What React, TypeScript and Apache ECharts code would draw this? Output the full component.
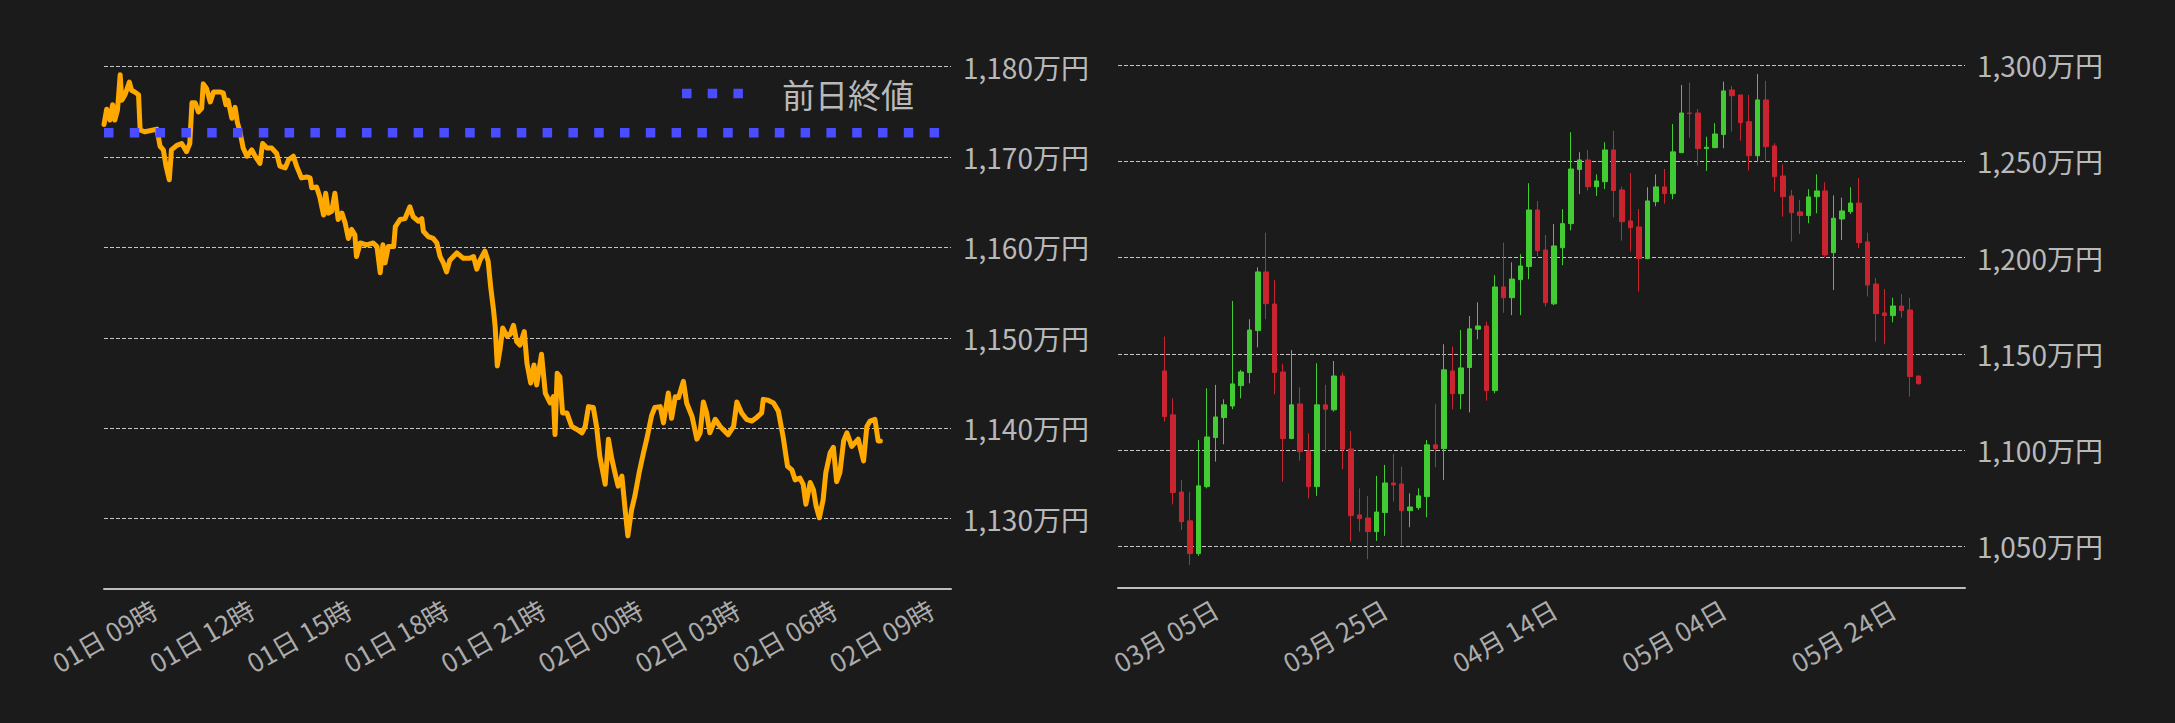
import React, { useEffect, useRef } from "react";
import * as echarts from "echarts";

const FONT = "'Noto Sans CJK JP', 'Noto Sans', sans-serif";
const BG = "#1b1b1b";

// ---- Left chart: intraday line (minutes after first point) ----
const START_MIN = 447; // first point, minutes after 01日 00:00
const AXIS_END_MIN = 2017;
const PREV_CLOSE = 1172.7;
const timeTickMinutes = [540, 720, 900, 1080, 1260, 1440, 1620, 1800, 1980];

const lineMinutes = [
  0, 5, 11, 16, 20, 25, 30, 33, 39, 47, 51, 57, 64, 67, 76, 98, 104, 110, 115, 121,
  125, 135, 144, 153, 159, 163, 169, 175, 181, 184, 190, 197, 203, 215, 221, 226, 230, 237, 243, 247,
  252, 258, 265, 274, 280, 289, 294, 302, 311, 320, 326, 336, 342, 351, 357, 366, 376, 382, 385, 394,
  400, 407, 411, 416, 422, 428, 434, 441, 447, 453, 459, 465, 468, 475, 487, 499, 506, 512, 517, 521,
  527, 537, 540, 549, 558, 567, 573, 583, 589, 592, 601, 610, 617, 623, 629, 635, 641, 654, 666, 678,
  685, 691, 697, 706, 712, 717, 722, 725, 729, 734, 739, 747, 753, 759, 765, 771, 779, 784, 791, 797,
  802, 811, 818, 827, 833, 836, 840, 845, 850, 858, 867, 876, 886, 892, 898, 907, 913, 919, 929, 935,
  941, 947, 953, 960, 966, 971, 978, 984, 992, 1000, 1006, 1015, 1021, 1031, 1037, 1046, 1052, 1059, 1065, 1074,
  1080, 1090, 1099, 1105, 1111, 1117, 1123, 1133, 1142, 1157, 1167, 1173, 1182, 1191, 1201, 1210, 1219, 1222, 1231, 1241,
  1250, 1259, 1267, 1275, 1281, 1290, 1296, 1301, 1309, 1315, 1320, 1326, 1333, 1338, 1346, 1352, 1358, 1364, 1371, 1377,
  1386, 1398, 1408, 1414, 1420, 1429, 1435, 1439,
];
const lineValues = [
  1173.6, 1175.3, 1174.1, 1175.8, 1174.1, 1175.2, 1179.1, 1176.3, 1176.9, 1178.3, 1177.4, 1177.2, 1176.9, 1173.0, 1172.8, 1173.1, 1171.2, 1170.8, 1169.0, 1167.5,
  1170.8, 1171.3, 1171.5, 1170.6, 1171.5, 1176.0, 1176.0, 1175.0, 1175.4, 1178.1, 1177.6, 1176.1, 1177.2, 1177.2, 1177.1, 1175.8, 1176.3, 1174.3, 1175.5, 1173.9,
  1172.8, 1171.0, 1170.1, 1170.8, 1170.1, 1169.3, 1171.5, 1171.0, 1171.0, 1170.4, 1169.0, 1168.8, 1169.7, 1170.1, 1169.0, 1167.7, 1167.8, 1167.7, 1166.6, 1166.7,
  1165.6, 1163.6, 1166.0, 1163.8, 1164.0, 1166.0, 1163.1, 1163.8, 1162.7, 1161.0, 1162.0, 1161.4, 1159.0, 1160.5, 1160.3, 1160.5, 1160.1, 1157.2, 1160.3, 1158.3,
  1160.1, 1160.1, 1162.3, 1163.1, 1163.2, 1164.5, 1163.4, 1162.9, 1163.2, 1161.8, 1161.2, 1161.0, 1160.5, 1159.0, 1158.3, 1157.3, 1158.6, 1159.4, 1158.8, 1158.8,
  1159.0, 1157.6, 1158.6, 1159.6, 1158.5, 1155.5, 1153.1, 1151.3, 1146.9, 1148.7, 1151.1, 1150.2, 1150.4, 1151.4, 1149.6, 1149.2, 1150.7, 1147.2, 1145.0, 1147.0,
  1144.8, 1148.2, 1143.9, 1142.8, 1143.5, 1139.3, 1146.1, 1145.7, 1141.7, 1141.7, 1140.2, 1139.9, 1139.5, 1140.2, 1142.4, 1142.3, 1140.2, 1136.9, 1133.8, 1138.8,
  1136.7, 1135.1, 1133.6, 1134.7, 1131.0, 1128.1, 1131.0, 1132.5, 1135.1, 1137.3, 1138.8, 1141.4, 1142.3, 1142.4, 1140.6, 1143.9, 1141.1, 1143.5, 1143.4, 1145.2,
  1142.8, 1141.3, 1138.8, 1139.5, 1142.9, 1141.7, 1139.5, 1141.0, 1140.2, 1139.3, 1140.2, 1142.9, 1141.7, 1141.0, 1140.8, 1141.2, 1141.7, 1143.2, 1143.1, 1142.8,
  1141.9, 1139.0, 1135.8, 1135.4, 1134.3, 1134.5, 1133.8, 1131.6, 1134.0, 1133.2, 1131.4, 1130.1, 1132.1, 1135.1, 1137.3, 1137.9, 1134.1, 1135.1, 1138.6, 1139.5,
  1138.0, 1138.8, 1136.4, 1140.2, 1140.8, 1141.0, 1138.6, 1138.6,
];

// ---- Right chart: daily candles ----
const CANDLE_START = "2024-02-28";
const PAD_DAYS = 5;
const labelDates = ["2024-03-05", "2024-03-25", "2024-04-14", "2024-05-04", "2024-05-24"];

const candleOpen = [
  1141.1, 1118.3, 1078.2, 1063.2, 1046.2, 1081.0, 1106.5, 1116.9, 1122.9, 1133.5,
  1140.3, 1162.1, 1192.6, 1175.9, 1140.6, 1106.0, 1124.0, 1099.5, 1081.0, 1123.5,
  1120.9, 1138.5, 1100.6, 1066.3, 1064.7, 1057.6, 1067.5, 1082.9, 1082.4, 1068.5,
  1070.1, 1075.8, 1102.7, 1100.8, 1141.1, 1129.3, 1142.9, 1162.8, 1164.5, 1130.9,
  1184.8, 1179.2, 1188.6, 1195.4, 1224.8, 1204.0, 1176.0, 1205.2, 1217.7, 1245.8,
  1250.8, 1236.9, 1239.5, 1256.0, 1235.2, 1219.1, 1216.0, 1199.5, 1229.1, 1236.8,
  1233.3, 1254.6, 1275.2, 1275.2, 1256.7, 1257.2, 1264.0, 1287.2, 1284.6, 1270.7,
  1253.0, 1282.0, 1258.1, 1242.5, 1232.1, 1223.8, 1221.9, 1231.7, 1234.7, 1202.6,
  1220.1, 1223.9, 1228.4, 1208.2, 1186.3, 1171.3, 1169.9, 1174.9, 1172.8, 1138.5,
];
const candleClose = [
  1117.4, 1077.9, 1062.8, 1046.2, 1081.4, 1106.8, 1117.2, 1123.5, 1134.4, 1140.6,
  1162.4, 1192.6, 1176.1, 1140.3, 1106.0, 1123.5, 1099.2, 1081.0, 1123.5, 1121.2,
  1138.5, 1100.4, 1065.9, 1064.4, 1057.6, 1067.8, 1082.9, 1081.9, 1068.5, 1070.4,
  1076.2, 1102.7, 1100.8, 1141.7, 1129.3, 1142.7, 1163.0, 1164.5, 1130.9, 1184.8,
  1179.2, 1188.9, 1195.7, 1224.8, 1203.7, 1176.6, 1206.1, 1217.7, 1246.1, 1250.8,
  1236.9, 1239.9, 1256.0, 1234.9, 1218.7, 1215.6, 1199.5, 1229.5, 1236.8, 1233.3,
  1255.0, 1275.2, 1274.9, 1256.7, 1257.4, 1264.3, 1286.7, 1284.2, 1270.2, 1253.0,
  1282.0, 1257.7, 1242.1, 1231.7, 1223.4, 1221.9, 1231.6, 1234.7, 1201.4, 1220.5,
  1224.3, 1228.4, 1207.8, 1185.8, 1170.9, 1169.9, 1174.9, 1172.5, 1138.2, 1134.5,
];
const candleLow = [
  1114.8, 1071.8, 1058.5, 1040.3, 1045.0, 1080.1, 1094.0, 1103.0, 1121.2, 1126.9,
  1134.7, 1153.4, 1168.0, 1129.0, 1083.6, 1105.6, 1094.5, 1074.9, 1076.2, 1098.7,
  1120.0, 1090.0, 1052.4, 1057.6, 1043.2, 1052.8, 1055.4, 1073.2, 1050.3, 1059.9,
  1068.9, 1065.1, 1091.1, 1084.5, 1121.2, 1121.2, 1119.6, 1157.6, 1125.7, 1129.5,
  1171.4, 1170.1, 1170.1, 1188.8, 1200.9, 1174.6, 1175.3, 1196.1, 1214.2, 1233.0,
  1234.9, 1232.1, 1235.7, 1221.0, 1208.9, 1203.2, 1182.4, 1199.2, 1226.7, 1228.1,
  1230.4, 1254.6, 1262.4, 1247.9, 1245.1, 1256.9, 1256.9, 1265.5, 1260.8, 1245.3,
  1249.6, 1250.3, 1234.3, 1221.3, 1208.4, 1212.3, 1217.9, 1223.1, 1200.2, 1183.2,
  1209.2, 1222.7, 1204.9, 1179.8, 1156.4, 1155.0, 1166.4, 1168.8, 1127.8, 1134.0,
];
const candleHigh = [
  1159.0, 1126.9, 1084.5, 1078.1, 1105.3, 1132.1, 1133.9, 1126.4, 1177.5, 1141.7,
  1168.0, 1195.0, 1213.0, 1188.4, 1144.8, 1152.0, 1132.6, 1108.7, 1145.1, 1133.9,
  1146.3, 1140.3, 1109.9, 1080.1, 1076.2, 1086.6, 1092.3, 1098.0, 1091.4, 1077.5,
  1080.1, 1105.3, 1123.8, 1155.0, 1153.8, 1162.4, 1169.7, 1176.8, 1166.8, 1190.9,
  1207.8, 1197.6, 1201.8, 1238.7, 1229.5, 1211.8, 1217.5, 1225.2, 1265.2, 1254.8,
  1256.0, 1243.3, 1260.0, 1265.9, 1236.9, 1244.0, 1225.3, 1236.6, 1243.3, 1246.1,
  1269.5, 1289.8, 1291.0, 1277.3, 1262.9, 1269.9, 1291.5, 1289.3, 1284.6, 1284.6,
  1295.5, 1291.9, 1259.5, 1248.5, 1235.2, 1230.0, 1235.6, 1243.3, 1239.2, 1232.4,
  1231.2, 1236.6, 1241.4, 1213.0, 1189.5, 1183.7, 1179.2, 1181.1, 1179.1, 1138.5,
];

const pad2 = (n: number) => (n < 10 ? "0" + n : "" + n);
const isoDay = (base: string, offset: number) => {
  const d = new Date(base + "T00:00:00Z");
  d.setUTCDate(d.getUTCDate() + offset);
  return `${d.getUTCFullYear()}-${pad2(d.getUTCMonth() + 1)}-${pad2(d.getUTCDate())}`;
};
const fmtYen = (v: number) => Math.round(v).toLocaleString("en-US") + "万円";

export default function App() {
  const ref = useRef<HTMLDivElement>(null);
  useEffect(() => {
    document.body.style.margin = "0";
    document.body.style.background = BG;
    if (!ref.current) return;
    const chart = echarts.init(ref.current, null, { renderer: "svg" });

    const categories: string[] = [];
    for (let i = -PAD_DAYS; i < candleOpen.length + PAD_DAYS; i++) categories.push(isoDay(CANDLE_START, i));
    const candleData = candleOpen.map((o, i) => [isoDay(CANDLE_START, i), o, candleClose[i], candleLow[i], candleHigh[i]]);
    const lineData = lineMinutes.map((m, i) => [START_MIN + m, lineValues[i]]);

    const labelColor = "#b9b9b9";
    const xLabelColor = "#acacac";
    const axisLine = { show: true, lineStyle: { color: "#bdbdbd", width: 2 } };
    const splitLine = { show: true, lineStyle: { color: "#c4c4c4", width: 1, type: [4, 2] } };

    chart.setOption({
      animation: false,
      backgroundColor: BG,
      textStyle: { fontFamily: FONT },
      legend: {
        data: [{ name: "前日終値", icon: "path://M0,0h9.5v9.5h-9.5z M25.7,0h9.5v9.5h-9.5z M51.4,0h9.5v9.5h-9.5z" }],
        left: 677,
        top: 72,
        itemWidth: 61,
        itemHeight: 9.5,
        textStyle: { color: labelColor, fontSize: 33, fontFamily: FONT, padding: [0, 0, 0, 34] },
      },
      grid: [
        { left: 104, right: 1224, top: 66.7, bottom: 134.7 },
        { left: 1118, right: 210, top: 65.3, bottom: 135 },
      ],
      xAxis: [
        {
          type: "value",
          gridIndex: 0,
          min: START_MIN,
          max: AXIS_END_MIN,
          splitLine: { show: false },
          axisTick: { show: false },
          axisLine,
          axisLabel: {
            customValues: timeTickMinutes,
            rotate: 30,
            margin: 18,
            color: xLabelColor,
            fontSize: 26,
            fontFamily: FONT,
            formatter: (v: number) => `${pad2(Math.floor(v / 1440) + 1)}日 ${pad2(Math.round((v % 1440) / 60))}時`,
          },
        },
        {
          type: "category",
          gridIndex: 1,
          data: categories,
          boundaryGap: true,
          axisTick: { show: false },
          axisLine,
          axisLabel: {
            interval: (_i: number, v: string) => labelDates.includes(v),
            rotate: 30,
            margin: 18,
            color: xLabelColor,
            fontSize: 26,
            fontFamily: FONT,
            formatter: (v: string) => `${v.slice(5, 7)}月 ${v.slice(8, 10)}日`,
          },
        },
      ],
      yAxis: [
        {
          type: "value",
          gridIndex: 0,
          position: "right",
          min: 1122.3,
          max: 1180,
          splitNumber: 5,
          axisLine: { show: false },
          axisTick: { show: false },
          splitLine,
          axisLabel: {
            margin: 12,
            color: labelColor,
            fontSize: 28,
            fontFamily: FONT,
            formatter: (v: number) => (Math.abs(v % 10) < 1e-6 ? fmtYen(v) : ""),
          },
        },
        {
          type: "value",
          gridIndex: 1,
          position: "right",
          min: 1028.3,
          max: 1300,
          splitNumber: 5,
          axisLine: { show: false },
          axisTick: { show: false },
          splitLine,
          axisLabel: {
            margin: 12,
            color: labelColor,
            fontSize: 28,
            fontFamily: FONT,
            formatter: (v: number) => (Math.abs(v % 50) < 1e-6 ? fmtYen(v) : ""),
          },
        },
      ],
      series: [
        {
          type: "line",
          name: "価格",
          xAxisIndex: 0,
          yAxisIndex: 0,
          data: lineData,
          symbol: "none",
          lineStyle: { color: "#ffa800", width: 5, join: "round", cap: "round" },
          z: 2,
        },
        {
          type: "line",
          name: "前日終値",
          xAxisIndex: 0,
          yAxisIndex: 0,
          data: [[START_MIN, PREV_CLOSE], [AXIS_END_MIN, PREV_CLOSE]],
          symbol: "none",
          color: "#4a4cff",
          itemStyle: { color: "#4a4cff" },
          lineStyle: { color: "#4a4cff", width: 9.5, type: [9.5, 16.3], cap: "butt" },
          z: 3,
        },
        {
          type: "candlestick",
          name: "日足",
          xAxisIndex: 1,
          yAxisIndex: 1,
          data: candleData,
          encode: { x: 0, y: [1, 2, 3, 4] },
          barWidth: 5,
          itemStyle: {
            color: "#42cc33",
            color0: "#c92530",
            borderColor: "#42cc33",
            borderColor0: "#c92530",
            borderWidth: 1,
          },
        },
      ],
    });
    return () => chart.dispose();
  }, []);
  return <div ref={ref} style={{ width: 2175, height: 723, background: BG }} />;
}
